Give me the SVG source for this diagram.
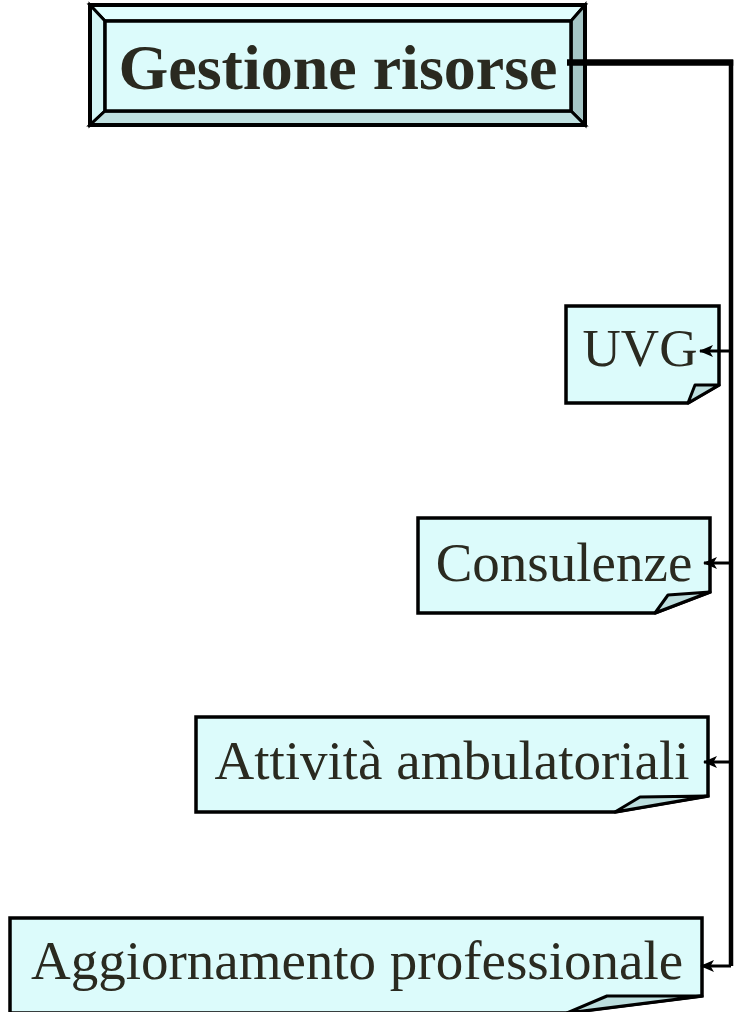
<svg xmlns="http://www.w3.org/2000/svg" width="735" height="1012" viewBox="0 0 735 1012">
<style>
.face{fill:#dcfbfb;stroke:#000;stroke-width:3.5;stroke-linejoin:miter}
.fold{fill:#bcdede;stroke:#000;stroke-width:3;stroke-linejoin:round}
.lbl{font-family:"Liberation Serif","Times New Roman",serif;fill:#2a2a20;text-anchor:middle}
.bev{stroke:#000;stroke-width:3;stroke-linejoin:miter}
.conn{fill:none;stroke:#000}
</style>
<defs>
<marker id="ah" viewBox="0 0 14 12" refX="13" refY="6" markerWidth="14" markerHeight="12" markerUnits="userSpaceOnUse" orient="auto">
<path d="M0,0 L14,6 L0,12 L3.5,6 Z" fill="#000"/>
</marker>
</defs>
<g id="node-gestione">
<polygon class="bev" points="90,5 585,5 571,21 105,21" fill="#e2ffff"/>
<polygon class="bev" points="90,5 105,21 105,111 90,125" fill="#d4f6f6"/>
<polygon class="bev" points="585,5 585,125 571,111 571,21" fill="#a6c6c6"/>
<polygon class="bev" points="90,125 585,125 571,111 105,111" fill="#bfe0e0"/>
<rect x="105" y="21" width="466" height="90" fill="#dcfbfb" stroke="#000" stroke-width="3.5"/>
<rect x="90" y="5" width="495" height="120" fill="none" stroke="#000" stroke-width="4"/>
<text class="lbl" x="338" y="89" font-size="64" font-weight="bold">Gestione risorse</text>
</g>
<g id="node-uvg">
<path class="face" d="M566,306 H719 V385 L688,403 H566 Z"/>
<path class="fold" d="M688,403 L695,385 L719,385 Z"/>
<text class="lbl" x="640" y="366" font-size="53">UVG</text>
</g>
<g id="node-consulenze">
<path class="face" d="M418,518 H710 V592 L655,613 H418 Z"/>
<path class="fold" d="M655,613 L668,595 L710,592 Z"/>
<text class="lbl" x="564" y="581" font-size="55">Consulenze</text>
</g>
<g id="node-attivita">
<path class="face" d="M196,717 H708 V796 L615,812 H196 Z"/>
<path class="fold" d="M615,812 L640,797 L708,796 Z"/>
<text class="lbl" x="452" y="779" font-size="55">Attività ambulatoriali</text>
</g>
<g id="node-aggiornamento">
<path class="face" d="M10,918 H702 V996 L567,1013 H10 Z"/>
<path class="fold" d="M567,1013 L607,996 L702,996 Z"/>
<text class="lbl" x="357" y="979" font-size="55">Aggiornamento professionale</text>
</g>
<g id="connectors">
<path class="conn" d="M567,62.5 H733.25" stroke-width="6.5"/>
<path class="conn" d="M731,60 V966" stroke-width="4.5"/>
<path class="conn" d="M731,351 H700" stroke-width="3" marker-end="url(#ah)"/>
<path class="conn" d="M731,563 H704" stroke-width="3" marker-end="url(#ah)"/>
<path class="conn" d="M731,762 H704" stroke-width="3" marker-end="url(#ah)"/>
<path class="conn" d="M731,966 H701" stroke-width="3" marker-end="url(#ah)"/>
</g>
</svg>
